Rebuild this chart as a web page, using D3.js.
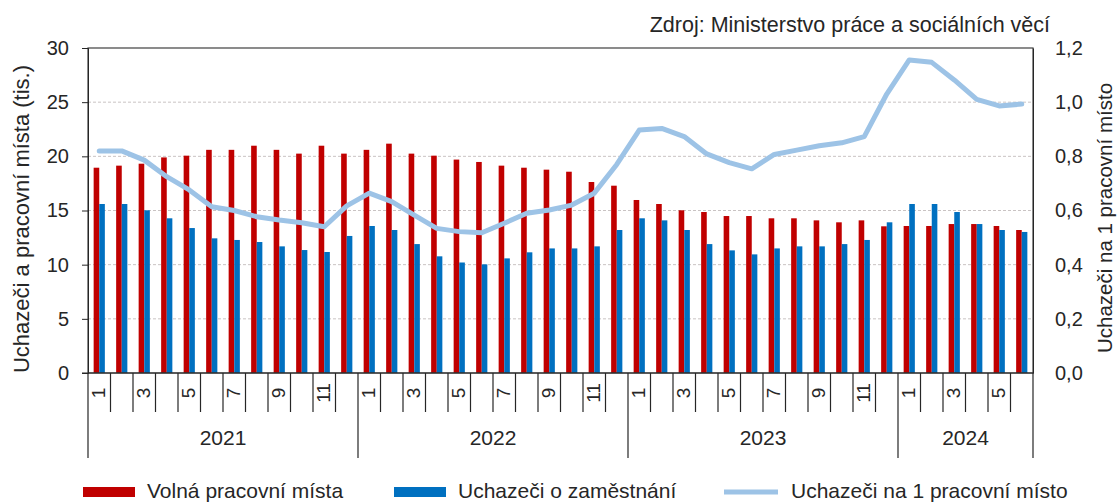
<!DOCTYPE html>
<html>
<head>
<meta charset="utf-8">
<script src="https://cdn.jsdelivr.net/npm/d3@7"></script>
<style>
  body { margin: 0; background: #fff; }
  text { font-family: "Liberation Sans", Arial, sans-serif; fill: #262626; }
</style>
</head>
<body>
<div id="chart"></div>
<script>
// data, Jan 2021 - Jun 2024
const years = [2021, 2022, 2023, 2024];
const monthsInYear = [12, 12, 12, 6];

// Volná pracovní místa (tis.)
const volna = [18.95, 19.14, 19.32, 19.9, 20.06, 20.6, 20.6, 20.98, 20.6, 20.25, 20.98, 20.25,
  20.6, 21.17, 20.25, 20.06, 19.7, 19.48, 19.14, 18.95, 18.77, 18.58, 17.63, 17.29,
  15.97, 15.6, 15.02, 14.86, 14.49, 14.49, 14.28, 14.28, 14.09, 13.91, 14.09, 13.54,
  13.57, 13.57, 13.75, 13.75, 13.57, 13.2];
// Uchazeči o zaměstnání (tis.)
const uchazeci = [15.6, 15.6, 15.02, 14.28, 13.38, 12.43, 12.28, 12.09, 11.69, 11.35, 11.17, 12.65,
  13.57, 13.2, 11.9, 10.77, 10.2, 10.03, 10.58, 11.14, 11.5, 11.5, 11.69, 13.2,
  14.28, 14.09, 13.2, 11.9, 11.32, 10.95, 11.5, 11.69, 11.69, 11.9, 12.28, 13.91,
  15.6, 15.6, 14.86, 13.75, 13.2, 13.02];
// Uchazeči na 1 pracovní místo
const ratio = [0.82, 0.82, 0.786, 0.725, 0.676, 0.614, 0.6, 0.577, 0.565, 0.555, 0.54, 0.617,
  0.664, 0.633, 0.583, 0.534, 0.522, 0.518, 0.553, 0.59, 0.602, 0.62, 0.664, 0.77,
  0.897, 0.903, 0.873, 0.809, 0.777, 0.754, 0.807, 0.823, 0.839, 0.85, 0.873, 1.03,
  1.156, 1.147, 1.082, 1.01, 0.986, 0.993];

const leftTicks = [0, 5, 10, 15, 20, 25, 30];
const rightTicks = [0, 0.2, 0.4, 0.6, 0.8, 1.0, 1.2];
const seriesNames = ["Volná pracovní místa", "Uchazeči o zaměstnání", "Uchazeči na 1 pracovní místo"];
const source = "Zdroj: Ministerstvo práce a sociálních věcí";

const RED = "#c00000", BLUE = "#0070c0", LIGHT = "#9dc3e6";
const W = 1118, H = 502;
const margin = { left: 88, right: 1033, top: 48, bottom: 373 };

// month list
const months = [];
years.forEach((yr, i) => {
  for (let m = 1; m <= monthsInYear[i]; m++) months.push({ year: yr, month: m });
});

const svg = d3.select("#chart").append("svg")
  .attr("width", W).attr("height", H);

const x = d3.scaleBand().domain(d3.range(months.length)).range([margin.left, margin.right]).padding(0);
const y = d3.scaleLinear().domain([0, 30]).range([margin.bottom, margin.top]);
const y2 = d3.scaleLinear().domain([0, 1.2]).range([margin.bottom, margin.top]);
const cx = i => x(i) + x.bandwidth() / 2;

// grid
svg.append("g")
  .selectAll("line")
  .data(leftTicks.filter(t => t > 0 && t < 30))
  .enter().append("line")
  .attr("x1", margin.left).attr("x2", margin.right)
  .attr("y1", d => y(d)).attr("y2", d => y(d))
  .style("stroke", "#c9c3c3")
  .style("stroke-dasharray", "3,2");

// bars
const barW = 5.6;
svg.append("g").selectAll("rect")
  .data(volna).enter().append("rect")
  .attr("x", (d, i) => cx(i) - barW)
  .attr("y", d => y(d))
  .attr("width", barW)
  .attr("height", d => margin.bottom - y(d))
  .style("fill", RED);

svg.append("g").selectAll("rect")
  .data(uchazeci).enter().append("rect")
  .attr("x", (d, i) => cx(i))
  .attr("y", d => y(d))
  .attr("width", barW)
  .attr("height", d => margin.bottom - y(d))
  .style("fill", BLUE);

// line
const line = d3.line()
  .x((d, i) => cx(i))
  .y(d => y2(d));

svg.append("path")
  .datum(ratio)
  .attr("d", line)
  .style("fill", "none")
  .style("stroke", LIGHT)
  .style("stroke-width", 5)
  .style("stroke-linejoin", "round")
  .style("stroke-linecap", "round");

// frame
svg.append("rect")
  .attr("x", margin.left).attr("y", margin.top)
  .attr("width", margin.right - margin.left).attr("height", margin.bottom - margin.top)
  .style("fill", "none")
  .style("stroke", "#404040")
  .style("stroke-width", 1.2);

// left axis
const gl = svg.append("g")
  .attr("transform", `translate(${margin.left},0)`)
  .call(d3.axisLeft(y).tickValues(leftTicks).tickSize(6).tickPadding(13));
gl.select(".domain").style("stroke", "#262626");
gl.selectAll(".tick line").style("stroke", "#262626");
gl.selectAll("text").style("font-size", "20px").style("fill", "#262626")
  .style("font-family", "Liberation Sans, Arial, sans-serif");

// right axis
const gr = svg.append("g")
  .attr("transform", `translate(${margin.right},0)`)
  .call(d3.axisRight(y2).tickValues(rightTicks).tickSize(0).tickPadding(22)
    .tickFormat(d => d3.format(".1f")(d).replace(".", ",")));
gr.select(".domain").style("stroke", "#262626");
gr.selectAll("text").style("font-size", "20px").style("fill", "#262626")
  .style("font-family", "Liberation Sans, Arial, sans-serif");

// category axis: month separators
const xa = svg.append("g");
xa.append("line")
  .attr("x1", margin.left - 6).attr("x2", margin.right)
  .attr("y1", margin.bottom).attr("y2", margin.bottom)
  .style("stroke", "#262626");

xa.selectAll(".sep")
  .data(d3.range(months.length + 1))
  .enter().append("line")
  .attr("class", "sep")
  .attr("x1", i => i < months.length ? x(i) : margin.right)
  .attr("x2", i => i < months.length ? x(i) : margin.right)
  .attr("y1", margin.bottom)
  .attr("y2", i => (i === months.length || months[i].month === 1) ? 458 : 412)
  .style("stroke", "#262626")
  .style("stroke-width", 1.2);

xa.selectAll(".mlab")
  .data(months.map((m, i) => ({ m: m.month, i })).filter(d => d.m % 2 === 1))
  .enter().append("text")
  .attr("transform", d => `translate(${cx(d.i) - 1},393) rotate(-90)`)
  .attr("text-anchor", "middle")
  .attr("dominant-baseline", "central")
  .style("font-size", "19px")
  .text(d => d.m);

// year labels
let start = 0;
years.forEach((yr, k) => {
  const end = start + monthsInYear[k];
  const xm = (x(start) + (end < months.length ? x(end) : margin.right)) / 2;
  svg.append("text")
    .attr("x", xm).attr("y", 445)
    .attr("text-anchor", "middle")
    .style("font-size", "21px")
    .text(yr);
  start = end;
});

// axis titles
svg.append("text")
  .attr("transform", "translate(21,219) rotate(-90)")
  .attr("text-anchor", "middle")
  .attr("dominant-baseline", "central")
  .style("font-size", "22px")
  .text("Uchazeči a pracovní místa (tis.)");

svg.append("text")
  .attr("transform", "translate(1104,218) rotate(-90)")
  .attr("text-anchor", "middle")
  .attr("dominant-baseline", "central")
  .style("font-size", "20.5px")
  .text(seriesNames[2]);

// source
svg.append("text")
  .attr("x", 1050).attr("y", 32)
  .attr("text-anchor", "end")
  .style("font-size", "21.5px")
  .text(source);

// legend
const legend = [
  { name: seriesNames[0], color: RED, type: "rect", x: 83, tx: 147 },
  { name: seriesNames[1], color: BLUE, type: "rect", x: 394, tx: 458 },
  { name: seriesNames[2], color: LIGHT, type: "line", x: 724, tx: 791 }
];
const lg = svg.append("g");
legend.forEach(l => {
  if (l.type === "rect") {
    lg.append("rect").attr("x", l.x).attr("y", 487).attr("width", 52).attr("height", 10)
      .style("fill", l.color);
  } else {
    lg.append("line").attr("x1", l.x).attr("x2", l.x + 54).attr("y1", 492).attr("y2", 492)
      .style("stroke", l.color).style("stroke-width", 5);
  }
  lg.append("text").attr("x", l.tx).attr("y", 498)
    .style("font-size", "21px")
    .text(l.name);
});
</script>
</body>
</html>
